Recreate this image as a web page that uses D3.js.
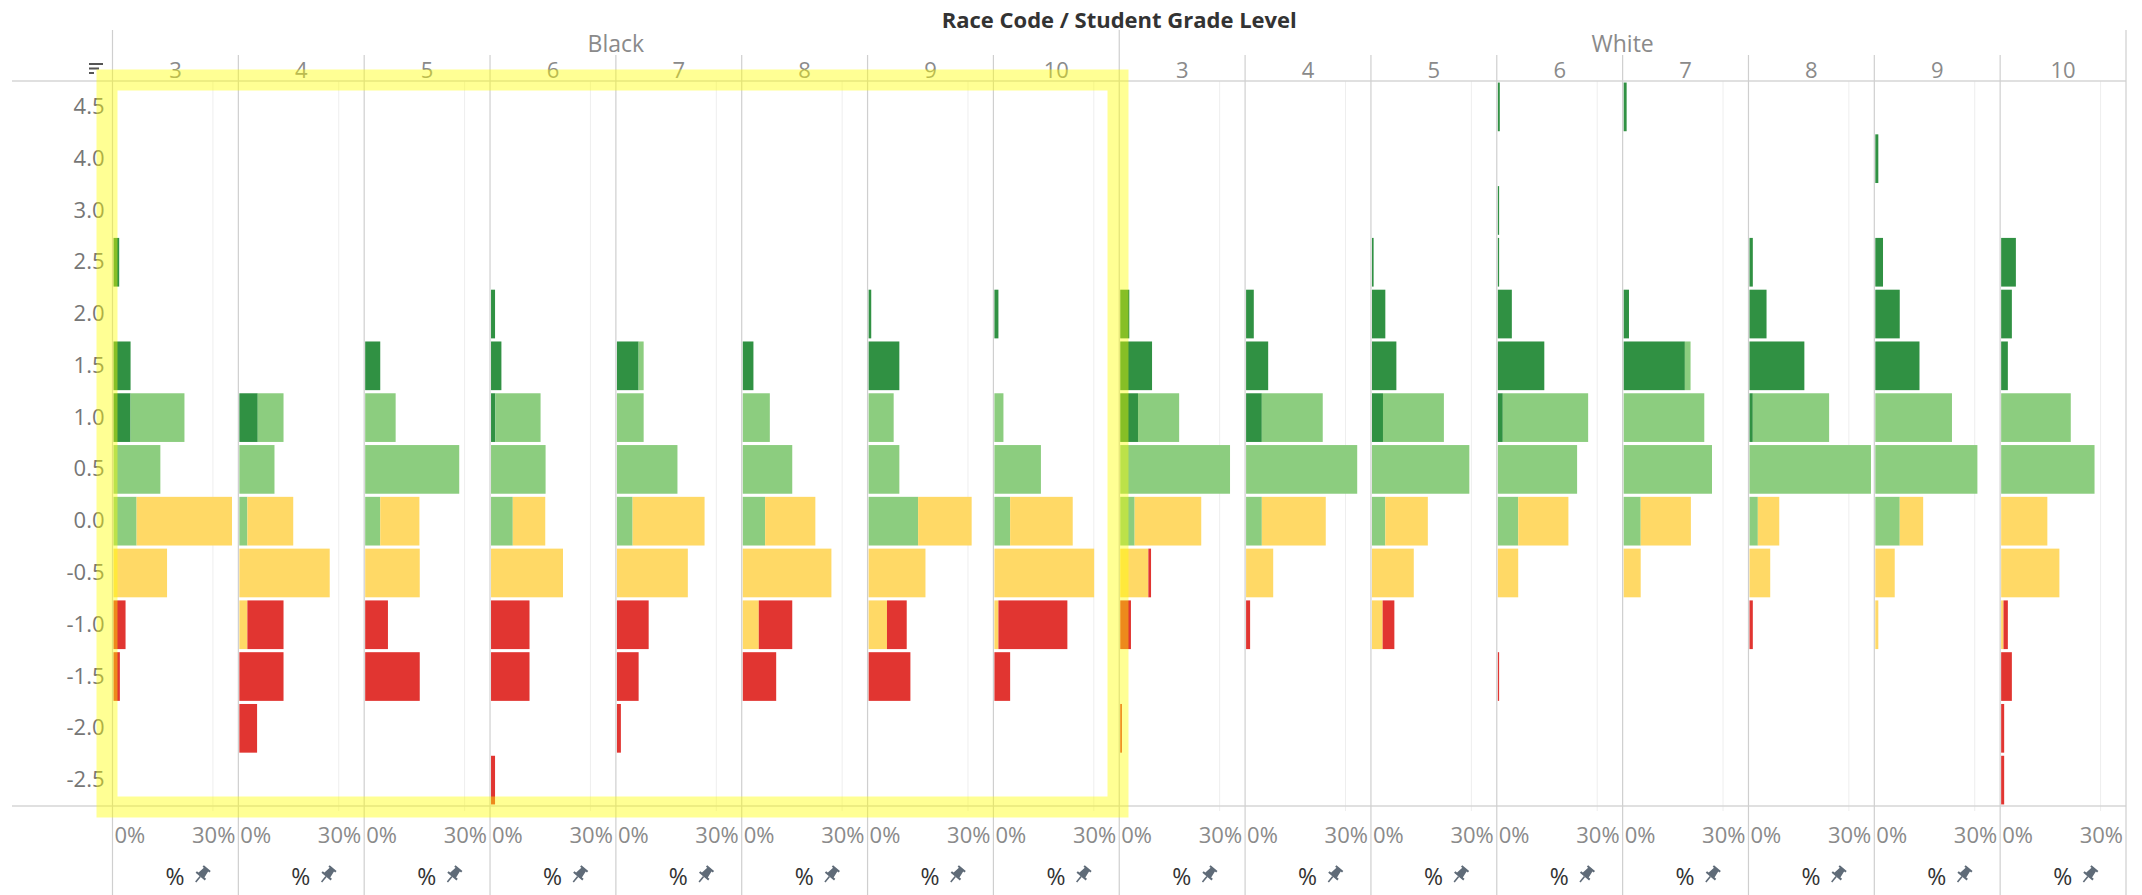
<!DOCTYPE html>
<html>
<head>
<meta charset="utf-8">
<script src="https://cdn.jsdelivr.net/npm/d3@7"></script>
<style>
  body { margin: 0; background: #fff; }
  svg { display: block; font-family: "Open Sans", sans-serif; }
</style>
</head>
<body>
<div id="chart"></div>
<script>
// Categories
const races = ["Black", "White"];
const grades = ["3", "4", "5", "6", "7", "8", "9", "10"];
const bins = ["4.5", "4.0", "3.0", "2.5", "2.0", "1.5", "1.0", "0.5", "0.0", "-0.5", "-1.0", "-1.5", "-2.0", "-2.5"];
const xTicks = [0, 30];
const xTickLabels = ["0%", "30%"];

// Series values (% of students), one row per panel (Black 3..10, White 3..10),
// one column per bin (4.5 down to -2.5)
const darkGreen = [
  [0, 0, 0, 1.7, 0, 5.1, 5.1, 0, 0, 0, 0, 0, 0, 0],
  [0, 0, 0, 0, 0, 0, 5.5, 0, 0, 0, 0, 0, 0, 0],
  [0, 0, 0, 0, 0, 4.5, 0, 0, 0, 0, 0, 0, 0, 0],
  [0, 0, 0, 0, 1.2, 3.1, 1.3, 0, 0, 0, 0, 0, 0, 0],
  [0, 0, 0, 0, 0, 6.5, 0, 0, 0, 0, 0, 0, 0, 0],
  [0, 0, 0, 0, 0, 3.2, 0, 0, 0, 0, 0, 0, 0, 0],
  [0, 0, 0, 0, 0.8, 9.2, 0, 0, 0, 0, 0, 0, 0, 0],
  [0, 0, 0, 0, 1.2, 0, 0, 0, 0, 0, 0, 0, 0, 0],
  [0, 0, 0, 0, 2.7, 9.5, 5.3, 0, 0, 0, 0, 0, 0, 0],
  [0, 0, 0, 0, 2.3, 6.6, 4.7, 0, 0, 0, 0, 0, 0, 0],
  [0, 0, 0, 0.5, 4.0, 7.3, 3.3, 0, 0, 0, 0, 0, 0, 0],
  [0.6, 0, 0.4, 0.4, 4.2, 13.9, 1.5, 0, 0, 0, 0, 0, 0, 0],
  [0.9, 0, 0, 0, 1.6, 18.3, 0, 0, 0, 0, 0, 0, 0, 0],
  [0, 0, 0, 1.0, 5.1, 16.4, 1.0, 0, 0, 0, 0, 0, 0, 0],
  [0, 0.9, 0, 2.3, 7.3, 13.2, 0, 0, 0, 0, 0, 0, 0, 0],
  [0, 0, 0, 4.4, 3.2, 2.0, 0, 0, 0, 0, 0, 0, 0, 0]
];
const lightGreen = [
  [0, 0, 0, 0, 0, 0, 16.1, 14.0, 6.9, 0, 0, 0, 0, 0],
  [0, 0, 0, 0, 0, 0, 7.7, 10.5, 2.4, 0, 0, 0, 0, 0],
  [0, 0, 0, 0, 0, 0, 9.1, 28.1, 4.5, 0, 0, 0, 0, 0],
  [0, 0, 0, 0, 0, 0, 13.5, 16.3, 6.5, 0, 0, 0, 0, 0],
  [0, 0, 0, 0, 0, 1.5, 8.0, 18.1, 4.7, 0, 0, 0, 0, 0],
  [0, 0, 0, 0, 0, 0, 8.1, 14.8, 6.7, 0, 0, 0, 0, 0],
  [0, 0, 0, 0, 0, 0, 7.5, 9.2, 14.8, 0, 0, 0, 0, 0],
  [0, 0, 0, 0, 0, 0, 2.7, 13.9, 4.7, 0, 0, 0, 0, 0],
  [0, 0, 0, 0, 0, 0, 12.3, 32.8, 4.3, 0, 0, 0, 0, 0],
  [0, 0, 0, 0, 0, 0, 18.2, 33.2, 4.7, 0, 0, 0, 0, 0],
  [0, 0, 0, 0, 0, 0, 18.2, 29.1, 4.0, 0, 0, 0, 0, 0],
  [0, 0, 0, 0, 0, 0, 25.5, 23.7, 6.1, 0, 0, 0, 0, 0],
  [0, 0, 0, 0, 0, 1.7, 24.1, 26.4, 5.1, 0, 0, 0, 0, 0],
  [0, 0, 0, 0, 0, 0, 22.8, 36.3, 2.5, 0, 0, 0, 0, 0],
  [0, 0, 0, 0, 0, 0, 22.9, 30.5, 7.3, 0, 0, 0, 0, 0],
  [0, 0, 0, 0, 0, 0, 20.8, 27.9, 0, 0, 0, 0, 0, 0]
];
const yellow = [
  [0, 0, 0, 0, 0, 0, 0, 0, 28.5, 16.0, 0, 0, 0, 0],
  [0, 0, 0, 0, 0, 0, 0, 0, 13.7, 27.0, 2.4, 0, 0, 0],
  [0, 0, 0, 0, 0, 0, 0, 0, 11.7, 16.3, 0, 0, 0, 0],
  [0, 0, 0, 0, 0, 0, 0, 0, 9.7, 21.5, 0, 0, 0, 0],
  [0, 0, 0, 0, 0, 0, 0, 0, 21.5, 21.2, 0, 0, 0, 0],
  [0, 0, 0, 0, 0, 0, 0, 0, 15.0, 26.5, 4.8, 0, 0, 0],
  [0, 0, 0, 0, 0, 0, 0, 0, 16.0, 17.0, 5.5, 0, 0, 0],
  [0, 0, 0, 0, 0, 0, 0, 0, 18.7, 29.8, 1.2, 0, 0, 0],
  [0, 0, 0, 0, 0, 0, 0, 0, 19.9, 8.4, 0, 0, 0, 0],
  [0, 0, 0, 0, 0, 0, 0, 0, 19.1, 8.1, 0, 0, 0, 0],
  [0, 0, 0, 0, 0, 0, 0, 0, 12.7, 12.5, 3.2, 0, 0, 0],
  [0, 0, 0, 0, 0, 0, 0, 0, 15.0, 6.1, 0, 0, 0, 0],
  [0, 0, 0, 0, 0, 0, 0, 0, 15.0, 5.1, 0, 0, 0, 0],
  [0, 0, 0, 0, 0, 0, 0, 0, 6.4, 6.2, 0, 0, 0, 0],
  [0, 0, 0, 0, 0, 0, 0, 0, 7.0, 5.8, 0.9, 0, 0, 0],
  [0, 0, 0, 0, 0, 0, 0, 0, 13.8, 17.4, 0.7, 0, 0, 0]
];
const red = [
  [0, 0, 0, 0, 0, 0, 0, 0, 0, 0, 3.6, 1.9, 0, 0],
  [0, 0, 0, 0, 0, 0, 0, 0, 0, 0, 10.8, 13.2, 5.3, 0],
  [0, 0, 0, 0, 0, 0, 0, 0, 0, 0, 6.8, 16.3, 0, 0],
  [0, 0, 0, 0, 0, 0, 0, 0, 0, 0, 11.5, 11.5, 0, 1.2],
  [0, 0, 0, 0, 0, 0, 0, 0, 0, 0, 9.5, 6.5, 1.2, 0],
  [0, 0, 0, 0, 0, 0, 0, 0, 0, 0, 10.0, 10.0, 0, 0],
  [0, 0, 0, 0, 0, 0, 0, 0, 0, 0, 5.9, 12.5, 0, 0],
  [0, 0, 0, 0, 0, 0, 0, 0, 0, 0, 20.6, 4.7, 0, 0],
  [0, 0, 0, 0, 0, 0, 0, 0, 0, 0.8, 3.2, 0, 0.5, 0],
  [0, 0, 0, 0, 0, 0, 0, 0, 0, 0, 1.2, 0, 0, 0],
  [0, 0, 0, 0, 0, 0, 0, 0, 0, 0, 3.5, 0, 0, 0],
  [0, 0, 0, 0, 0, 0, 0, 0, 0, 0, 0, 0.4, 0, 0],
  [0, 0, 0, 0, 0, 0, 0, 0, 0, 0, 0, 0, 0, 0],
  [0, 0, 0, 0, 0, 0, 0, 0, 0, 0, 1.0, 0, 0, 0],
  [0, 0, 0, 0, 0, 0, 0, 0, 0, 0, 0, 0, 0, 0],
  [0, 0, 0, 0, 0, 0, 0, 0, 0, 0, 1.3, 3.2, 0.9, 0.9]
];

const seriesKeys = ["darkGreen", "lightGreen", "yellow", "red"];
const seriesColors = ["#309143", "#8ccd7f", "#ffd966", "#e13531"];

// Chart dimensions
const width = 2142;
const height = 895;
const marginLeft = 112.5;
const marginRight = 16;
const marginTop = 81;
const marginBottom = 89;

const panels = races.flatMap(r => grades.map(g => r + " " + g));

const svg = d3.select("#chart")
  .append("svg")
  .attr("width", width)
  .attr("height", height);

// Scales
const px = d3.scaleBand()
  .domain(panels)
  .range([marginLeft, width - marginRight]);

const pw = px.bandwidth();

const x = d3.scaleLinear()
  .domain([0, 37.6])
  .range([0, pw]);

const y = d3.scaleBand()
  .domain(bins)
  .range([marginTop, height - marginBottom])
  .paddingInner(0.06)
  .paddingOuter(0.03);

const raceX = d3.scaleBand()
  .domain(races)
  .range([marginLeft, width - marginRight]);

// Stack rows
const rows = [];
panels.forEach((p, i) => {
  bins.forEach((b, j) => {
    rows.push({
      panel: p, bin: b,
      darkGreen: darkGreen[i][j],
      lightGreen: lightGreen[i][j],
      yellow: yellow[i][j],
      red: red[i][j]
    });
  });
});
const stacked = d3.stack().keys(seriesKeys)(rows);

// 30% gridlines
svg.append("g")
  .selectAll("line")
  .data(panels)
  .join("line")
  .attr("x1", d => px(d) + x(30))
  .attr("x2", d => px(d) + x(30))
  .attr("y1", marginTop)
  .attr("y2", height - marginBottom + 5)
  .attr("stroke", "#eeeeee")
  .attr("stroke-width", 1);

// Bars
svg.append("g")
  .selectAll("g")
  .data(stacked)
  .join("g")
  .attr("fill", (d, i) => seriesColors[i])
  .selectAll("rect")
  .data(d => d.filter(s => s[1] - s[0] > 0))
  .join("rect")
  .attr("x", d => px(d.data.panel) + 1 + x(d[0]))
  .attr("y", d => y(d.data.bin))
  .attr("width", d => x(d[1]) - x(d[0]))
  .attr("height", y.bandwidth());

// Horizontal axis lines
[marginTop, height - marginBottom].forEach(yy => {
  svg.append("line")
    .attr("x1", 12).attr("x2", width - marginRight)
    .attr("y1", yy).attr("y2", yy)
    .attr("stroke", "#d6d6d6")
    .attr("stroke-width", 1.5);
});

// Panel separators
const sepEdges = panels.map(p => px(p)).concat([width - marginRight]);
svg.append("g")
  .selectAll("line")
  .data(sepEdges)
  .join("line")
  .attr("x1", d => d).attr("x2", d => d)
  .attr("y1", (d, i) => (i % grades.length === 0) ? 30 : 55)
  .attr("y2", height)
  .attr("stroke", "#cfcfcf")
  .attr("stroke-width", 1.2);

// Y axis
svg.append("g")
  .attr("transform", `translate(${marginLeft - 8},0)`)
  .call(d3.axisLeft(y).tickSize(0).tickPadding(0))
  .call(g => g.select(".domain").remove())
  .call(g => g.selectAll("text")
    .attr("fill", "#767676")
    .attr("font-size", 22)
    .attr("font-family", "Open Sans, sans-serif"));

// X tick labels per panel
const xLab = svg.append("g")
  .attr("font-size", 22)
  .attr("fill", "#8a8a8a");
panels.forEach(p => {
  xTicks.forEach((t, k) => {
    xLab.append("text")
      .attr("x", k === 0 ? px(p) + 2 : px(p) + pw - 3)
      .attr("y", 834)
      .attr("dominant-baseline", "central")
      .attr("text-anchor", k === 0 ? "start" : "end")
      .text(xTickLabels[k]);
  });
});

// "%" field label with pin icon under each panel
const fieldLab = svg.append("g");
panels.forEach(p => {
  fieldLab.append("text")
    .attr("x", px(p) + 72)
    .attr("y", 876)
    .attr("dominant-baseline", "central")
    .attr("text-anchor", "end")
    .attr("font-size", 23)
    .attr("fill", "#333")
    .text("%");
  const pin = fieldLab.append("g")
    .attr("transform", `translate(${px(p) + 89},875) rotate(40)`)
    .attr("fill", "#5f6b78");
  pin.append("path")
    .attr("d", "M-4.5,-9 H4.5 V-7 H2.8 L3.8,0 H6 V2 H-6 V0 H-3.8 L-2.8,-7 H-4.5 Z");
  pin.append("line")
    .attr("x1", 0).attr("x2", 0).attr("y1", 2).attr("y2", 9)
    .attr("stroke", "#5f6b78").attr("stroke-width", 1.6);
});

// Grade headers
svg.append("g")
  .selectAll("text")
  .data(panels)
  .join("text")
  .attr("x", d => px(d) + pw / 2)
  .attr("y", 69)
  .attr("dominant-baseline", "central")
  .attr("text-anchor", "middle")
  .attr("font-size", 22)
  .attr("fill", "#8a8a8a")
  .text(d => d.split(" ")[1]);

// Race headers
svg.append("g")
  .selectAll("text")
  .data(races)
  .join("text")
  .attr("x", d => raceX(d) + raceX.bandwidth() / 2)
  .attr("y", 43)
  .attr("dominant-baseline", "central")
  .attr("text-anchor", "middle")
  .attr("font-size", 23)
  .attr("fill", "#8a8a8a")
  .text(d => d);

// Title
svg.append("text")
  .attr("x", raceX("White"))
  .attr("y", 19)
  .attr("dominant-baseline", "central")
  .attr("text-anchor", "middle")
  .attr("font-size", 22)
  .attr("font-weight", "bold")
  .attr("fill", "#333")
  .text("Race Code  /  Student Grade Level");

// Sort icon
const sortIcon = svg.append("g").attr("fill", "#555");
[[14, 63], [10, 67.5], [5, 72]].forEach(([w, yy]) => {
  sortIcon.append("rect").attr("x", 89).attr("y", yy).attr("width", w).attr("height", 2);
});

// Highlight rectangle around the Black section
svg.append("rect")
  .attr("x", 107)
  .attr("y", 80)
  .attr("width", 1118 - 107)
  .attr("height", 807 - 80)
  .attr("fill", "none")
  .attr("stroke", "#ffff00")
  .attr("stroke-opacity", 0.42)
  .attr("stroke-width", 21);
</script>
</body>
</html>
